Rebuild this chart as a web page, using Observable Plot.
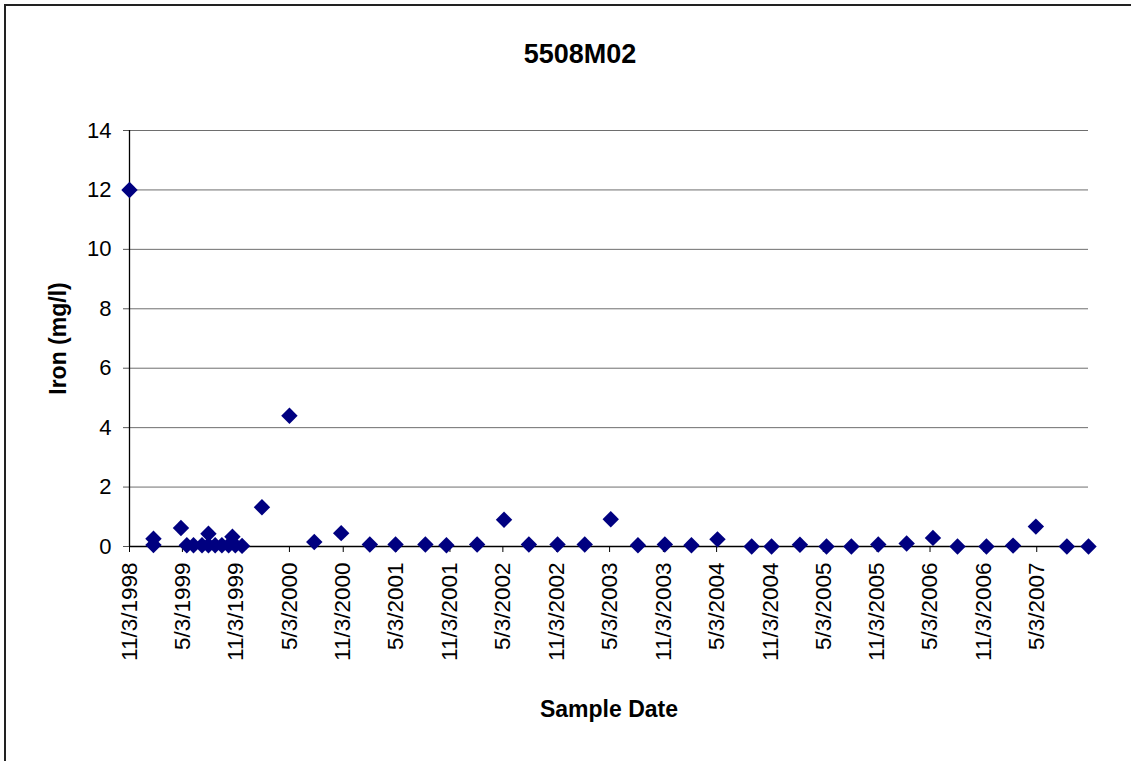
<!DOCTYPE html>
<html>
<head>
<meta charset="utf-8">
<script src="https://cdn.jsdelivr.net/npm/d3@7"></script>
<script src="https://cdn.jsdelivr.net/npm/@observablehq/plot@0.6"></script>
<style>
  html, body { margin: 0; padding: 0; background: #fff; overflow: hidden; }
  #wrap { position: relative; width: 1131px; height: 761px; }
  #frame { position: absolute; left: 4px; top: 4px; width: 1200px; height: 800px;
           border-left: 2px solid #222; border-top: 2px solid #222; box-sizing: border-box; }
  #chart { position: absolute; left: 0; top: 0; }
  #title { position: absolute; left: 480px; width: 200px; top: 41px; text-align: center;
           font: bold 27px "Liberation Sans", Arial, sans-serif; line-height: 27px; color: #000; }
</style>
</head>
<body>
<div id="wrap">
  <div id="frame"></div>
  <div id="chart"></div>
  <div id="title">5508M02</div>
</div>
<script>
// Sample dates and iron concentrations (mg/l)
const sampleDates = ["1998-11-03","1999-01-24","1999-01-24","1999-04-28","1999-05-18","1999-06-10","1999-07-09","1999-07-31","1999-07-31","1999-08-23","1999-09-15","1999-10-08","1999-10-21","1999-10-31","1999-11-23","2000-01-30","2000-05-03","2000-07-27","2000-10-27","2001-02-02","2001-05-01","2001-08-11","2001-10-22","2002-02-04","2002-05-07","2002-07-31","2002-11-06","2003-02-07","2003-05-07","2003-08-08","2003-11-08","2004-02-07","2004-05-06","2004-08-31","2004-11-07","2005-02-12","2005-05-14","2005-08-07","2005-11-07","2006-02-12","2006-05-13","2006-08-05","2006-11-12","2007-02-11","2007-04-30","2007-08-14","2007-10-27"];
const ironValues = [12,0.26,0.05,0.62,0.04,0.04,0.04,0.43,0.04,0.04,0.04,0.04,0.33,0.04,0.02,1.32,4.4,0.15,0.45,0.07,0.07,0.07,0.04,0.07,0.9,0.07,0.07,0.07,0.92,0.04,0.07,0.04,0.24,0,0,0.06,0,0,0.07,0.1,0.29,0,0,0.03,0.67,0,0];

// Axis ticks
const xTickDates = ["1998-11-03","1999-05-03","1999-11-03","2000-05-03","2000-11-03","2001-05-03","2001-11-03","2002-05-03","2002-11-03","2003-05-03","2003-11-03","2004-05-03","2004-11-03","2005-05-03","2005-11-03","2006-05-03","2006-11-03","2007-05-03"];
const xDomain = ["1998-11-03","2007-10-27"];
const yTicks = [0,2,4,6,8,10,12,14];
const yDomain = [0,14];

const parse = d3.utcParse("%Y-%m-%d");
const fmt = d3.utcFormat("%-m/%-d/%Y");
const data = sampleDates.map((d, i) => ({date: parse(d), iron: ironValues[i]}));
const xTicks = xTickDates.map(parse);

const chart = Plot.plot({
  width: 1131,
  height: 761,
  marginLeft: 129,
  marginRight: 43,
  marginTop: 130,
  marginBottom: 215,
  style: {fontFamily: '"Liberation Sans", Arial, sans-serif', fontSize: "22px", color: "#000", background: "transparent", overflow: "visible"},
  x: {type: "utc", domain: xDomain.map(parse)},
  y: {domain: yDomain},
  marks: [
    Plot.gridY(yTicks, {stroke: "#6e6e6e", strokeOpacity: 1, strokeWidth: 1}),
    Plot.axisY(yTicks, {tickSize: 6, tickPadding: 12, fontSize: 22, stroke: "#555",
      label: "Iron (mg/l)", labelAnchor: "center", labelArrow: "none", labelOffset: 80}),
    Plot.axisX(xTicks, {tickSize: 6, tickPadding: 10, tickRotate: -90, tickFormat: fmt, fontSize: 22.5,
      label: "Sample Date", labelAnchor: "center", labelArrow: "none", labelOffset: 170}),
    Plot.ruleX([parse(xDomain[0])], {stroke: "#000", strokeWidth: 1.3}),
    Plot.ruleY([0], {stroke: "#000", strokeWidth: 1.3}),
    Plot.dot(data, {x: "date", y: "iron", symbol: "diamond2", r: 7.4, fill: "#000080", stroke: "none"})
  ]
});
// bold axis titles
chart.querySelectorAll("g[aria-label='x-axis label'] text, g[aria-label='y-axis label'] text").forEach(t => {
  t.setAttribute("font-weight", "bold");
  t.setAttribute("font-size", "23");
});
document.getElementById("chart").appendChild(chart);
</script>
</body>
</html>
